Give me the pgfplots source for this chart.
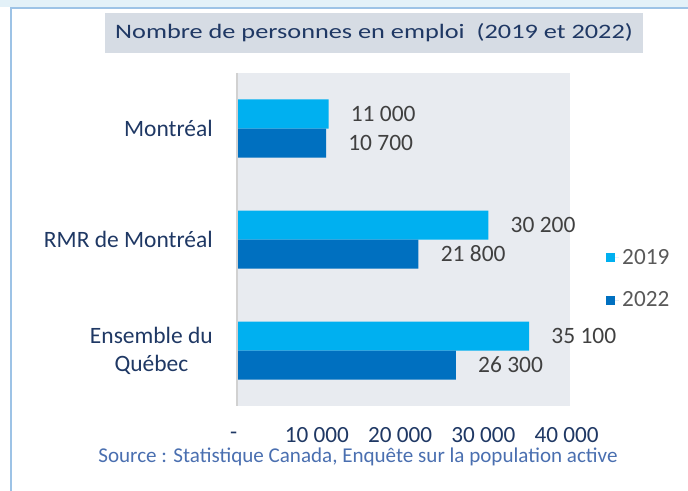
\documentclass[border=0pt]{standalone}
\usepackage{pgfplots}
\pgfplotsset{compat=1.18}
\usepackage{fontspec}
\setmainfont{Carlito}
\newfontfamily\titlefont[FakeStretch=1.28]{Carlito}
\definecolor{c2019}{HTML}{00B0F0}
\definecolor{c2022}{HTML}{0070C0}
\definecolor{navy}{HTML}{1F3864}
\definecolor{plotbg}{HTML}{E8EBF0}
\definecolor{titlebg}{HTML}{D6DCE4}
\definecolor{valgray}{HTML}{404040}
\definecolor{leggray}{HTML}{595959}
\definecolor{srcblue}{HTML}{4A6FB0}
\definecolor{framec}{HTML}{9DC3E6}
\definecolor{topband}{HTML}{E3F1F8}
\begin{document}
\begin{tikzpicture}
\begin{scope}[x=0.75pt,y=-0.75pt]
\path[use as bounding box] (0,0) rectangle (688,491);
\fill[topband] (0,0) rectangle (688,7);
\draw[framec, line width=1.5pt] (11,491) -- (11,8) -- (688,8);
\fill[titlebg] (105,13) rectangle (643,53);
\node[font=\titlefont\fontsize{15.4}{18}\selectfont, text=navy] at (374,33) {Nombre de personnes en emploi\ \ (2019 et 2022)};
\node[font=\fontsize{15.8}{19}\selectfont, text=srcblue, inner sep=0pt] at (358,456.5) {Source : Statistique Canada, Enquête sur la population active};
\end{scope}
\begin{axis}[
  at={(177.75pt,-304.5pt)}, anchor=south west,
  scale only axis, width=249.75pt, height=249.75pt,
  xbar, bar width=21.75pt,
  xmin=0, xmax=40000, ymin=-0.5, ymax=2.5,
  ytick={0,1,2}, yticklabels={Ensemble du\\Québec, RMR de Montréal, Montréal},
  yticklabel style={align=center, anchor=east, inner sep=0pt, xshift=-18pt, font=\fontsize{17.6}{21}\selectfont, text=navy},
  xtick={0,10000,20000,30000,40000},
  scaled x ticks=false,
  xticklabels={-\hspace{16pt},10 000,20 000,30 000,40 000},
  xticklabel style={anchor=center, inner sep=0pt, yshift=-22pt, xshift=-2.5pt, font=\fontsize{17.4}{21}\selectfont, text=navy},
  major tick length=0pt, axis line style={draw=none},
  axis background/.style={fill=plotbg},
  clip=false,
  nodes near coords, point meta=explicit symbolic,
  nodes near coords style={anchor=west, inner sep=0pt, xshift=16.5pt, font=\fontsize{17.6}{21}\selectfont, text=valgray},
  legend image code/.code={\fill[#1] (0pt,-3.4pt) rectangle (6.8pt,3.4pt); \path (0pt,0pt) -- (9.5pt,0pt);},
  legend style={at={(1.108,0.381)}, anchor=west, draw=none, fill=none, inner sep=0pt,
    font=\fontsize{17.4}{20}\selectfont, text=leggray, row sep=14pt,
    nodes={inner sep=2.5pt}},
  legend cell align=left,
]
\addplot[fill=c2019, draw=none, bar shift=10.875pt] coordinates {(35100,0)[35 100] (30200,1)[30 200] (11000,2)[11 000]};
\addplot[fill=c2022, draw=none, bar shift=-10.875pt] coordinates {(26300,0)[26 300] (21800,1)[21 800] (10700,2)[10 700]};
\legend{2019,2022}
\end{axis}
\begin{scope}[x=0.75pt,y=-0.75pt]
\draw[black!18, line width=1.2pt] (237,73) -- (237,406);
\end{scope}
\end{tikzpicture}
\end{document}
